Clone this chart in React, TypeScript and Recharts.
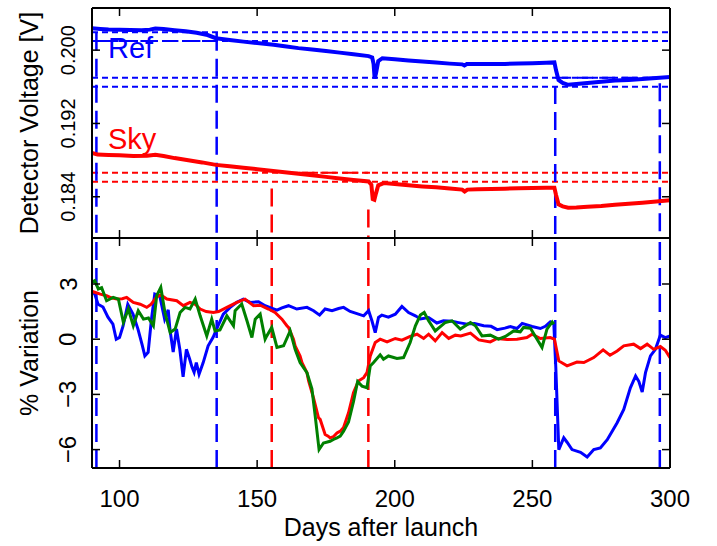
import React from "react";
import { LineChart, Line, XAxis, YAxis, ReferenceLine, ReferenceDot } from "recharts";

type Pt = [number, number];

const dayTicks = [100, 150, 200, 250, 300];
const voltTicks = [0.184, 0.192, 0.2];
const pctTicks = [-6, -3, 0, 3];

// detector voltage [V], top panel
const refVoltage: Pt[] = [
  [90, 0.2024], [93, 0.20232], [96, 0.20225], [100, 0.20222], [104, 0.2022], [108, 0.20218],
  [111, 0.20224], [113, 0.20236], [116, 0.2023], [120, 0.20218], [124, 0.20207], [128, 0.2019],
  [132, 0.20165], [135, 0.2013], [140, 0.2011], [145, 0.20093], [150, 0.20078], [156, 0.2006],
  [160, 0.20042], [165, 0.20022], [170, 0.20006], [175, 0.1999], [180, 0.19973], [185, 0.19955],
  [190.5, 0.19935], [191.8, 0.1992], [192.3, 0.1985], [192.7, 0.1969], [193.2, 0.1975], [194, 0.1988],
  [195.5, 0.19912], [200, 0.19902], [205, 0.19888], [210, 0.19875], [215, 0.19864], [220, 0.19853],
  [224.5, 0.19845], [225.3, 0.19832], [226.2, 0.19848], [230, 0.1985], [235, 0.19848], [240, 0.1985],
  [245, 0.19853], [250, 0.19858], [255, 0.19862], [258, 0.19866], [258.6, 0.1978], [259.5, 0.19675],
  [261, 0.19643], [263, 0.19622], [266, 0.1963], [270, 0.19641], [275, 0.19655], [280, 0.19668],
  [285, 0.19675], [290, 0.19684], [295, 0.19695], [300, 0.19706],
];
const skyVoltage: Pt[] = [
  [90, 0.18878], [92, 0.1886], [96, 0.18857], [100, 0.18852], [105, 0.18846], [110, 0.18848],
  [113, 0.18858], [116, 0.18845], [120, 0.18822], [125, 0.18798], [130, 0.18775], [135, 0.18748],
  [140, 0.18733], [145, 0.18716], [150, 0.18701], [155, 0.18684], [160, 0.18668], [165, 0.1865],
  [170, 0.18634], [175, 0.18617], [180, 0.186], [185, 0.18584], [190.5, 0.18567], [191.5, 0.1853],
  [192, 0.18375], [192.6, 0.18367], [193.2, 0.1844], [194, 0.18525], [196, 0.18549], [200, 0.1854],
  [205, 0.18525], [210, 0.18513], [215, 0.18503], [220, 0.1849], [224.5, 0.18478], [225.4, 0.18458],
  [226.4, 0.18478], [230, 0.18482], [235, 0.18484], [240, 0.18488], [245, 0.18493], [250, 0.18496],
  [255, 0.18498], [258, 0.18498], [258.6, 0.1842], [259.5, 0.18318], [261, 0.18295], [263, 0.1828],
  [266, 0.18283], [270, 0.18291], [275, 0.183], [280, 0.18313], [285, 0.18323], [290, 0.18335],
  [295, 0.18348], [300, 0.18362],
];

// % variation, bottom panel
const refVariation: Pt[] = [
  [90, 2.6], [91, 2.45], [92.2, 1.9], [94, 1.75], [95.8, 1.2], [97.6, 0.82], [98.8, 0.0], [100, 0.1],
  [101.3, 0.72], [103, 1.9], [104.9, 1.36], [106.7, 0.55], [108.2, -0.3], [109.2, -0.91], [110.4, -0.71],
  [111.6, 1.09], [112.8, 2.45], [114.6, 2.36], [116.4, 1.09], [117.7, 1.6], [118.3, 0.55], [119.5, -0.7],
  [120.7, 0.55], [121.9, -0.55], [123.1, -2.05], [124.3, -0.55], [125.5, -1.09], [126.3, -1.5],
  [127.1, -1.8], [127.9, -1.27], [128.9, -1.9], [130.4, -1.27], [132.2, -0.36], [134, 0.1], [135.8, 0.73],
  [137.7, 1.36], [140.2, 1.73], [142.6, 2.0], [145, 2.18], [147.5, 2.0], [150.5, 2.04], [152.9, 1.82],
  [155, 1.7], [157.2, 1.58], [159, 1.7], [161.4, 1.82], [164.4, 1.64], [168.1, 1.73], [170.5, 1.55],
  [172.7, 1.31], [174.7, 1.64], [177.2, 1.55], [179.6, 1.67], [181.4, 1.73], [183.8, 1.51], [186, 1.4],
  [188.7, 1.27], [190.5, 1.55], [191.7, 1.0], [192.9, 0.36], [194.1, 1.18], [195.3, 1.31], [197.7, 1.2],
  [200.2, 1.36], [202.6, 1.78], [205, 1.45], [207.5, 1.27], [209.3, 1.1], [212.3, 1.18], [215.3, 0.88],
  [217.7, 1.0], [220.8, 0.97], [223.2, 0.9], [226.3, 0.82], [229, 0.85], [232.3, 0.73], [235, 0.7],
  [237.2, 0.52], [240, 0.6], [242, 0.69], [244.4, 0.58], [246.3, 0.86], [249.9, 0.69], [252.9, 0.58],
  [254.7, 0.7], [256.5, 0.94], [257.8, 0.82], [258.5, -1.5], [259.6, -6.0], [261.4, -5.36], [262.6, -5.6],
  [264.4, -6.0], [267.5, -6.15], [269.9, -6.4], [272.3, -6.0], [274.7, -5.91], [277.2, -5.46],
  [280.8, -4.54], [283.2, -3.82], [285.6, -2.64], [287.5, -2.0], [288.7, -2.3], [289.9, -2.87],
  [291.1, -1.82], [292.9, -0.91], [294.7, -0.55], [296.5, 0.22], [298.3, 0.09], [300, 0.18],
];
const skyVariation: Pt[] = [
  [90, 2.6], [91, 2.55], [93, 2.45], [95.3, 2.36], [97, 2.25], [99, 2.18], [101, 2.2], [102.6, 2.27],
  [105, 2.0], [107.5, 1.9], [109.9, 1.73], [111.5, 1.9], [113.5, 2.3], [115, 2.4], [117.2, 2.18],
  [120.8, 2.09], [123.2, 1.82], [125.6, 2.0], [127.5, 1.9], [129.3, 1.64], [131.5, 1.5], [134.1, 1.45],
  [136, 1.5], [139, 1.73], [142.6, 2.0], [145.6, 2.18], [148.7, 1.82], [151.1, 1.85], [154.1, 1.64],
  [156.5, 1.45], [159, 1.09], [160.8, 0.73], [161.4, 0.64], [163.2, 0.0], [163.8, -0.36], [165.6, -0.91],
  [166.3, -1.27], [168.1, -1.82], [168.7, -2.27], [170.5, -3.2], [172.3, -4.27], [172.9, -4.36],
  [174.7, -5.18], [175.8, -5.27], [176.5, -5.36], [177.7, -5.3], [179, -5.09], [180.2, -5.0],
  [181.4, -4.8], [183.2, -4.0], [185, -2.91], [186.8, -2.27], [188.7, -2.09], [189.9, -1.82],
  [191.1, -0.91], [192.9, -0.18], [194.7, 0.0], [197.2, -0.15], [200.2, 0.04], [202.6, -0.05],
  [205.6, 0.15], [208.1, 0.27], [210.5, 0.04], [212.3, 0.27], [214.7, -0.09], [217.2, 0.36],
  [219.6, 0.04], [222, 0.22], [224, 0.18], [227.5, 0.33], [230.5, -0.04], [234.7, -0.15], [237.2, 0.04],
  [240.8, -0.02], [244.4, 0.0], [248, 0.09], [249.9, 0.27], [252.9, 0.04], [256.5, 0.09], [258, 0.0],
  [259.6, -1.18], [262.6, -1.45], [266.2, -1.24], [268.7, -1.27], [272.3, -1.0], [275.7, -0.58],
  [278.2, -0.87], [280.8, -0.64], [283.2, -0.36], [286.8, -0.27], [289.3, -0.51], [291.7, -0.27],
  [294.1, -0.55], [296.5, -0.4], [298.3, -0.6], [300, -1.0],
];
const diffVariation: Pt[] = [
  [90, 3.1], [91, 3.18], [92.3, 2.73], [93.5, 2.8], [95.3, 2.09], [97.7, 2.27], [99.6, 2.18], [101.4, 0.91],
  [103.2, 1.64], [105, 0.73], [106.8, 1.55], [108.7, 1.09], [110.5, 1.15], [112.3, 0.73], [113.5, 2.36],
  [115, 2.82], [116.5, 1.45], [118.4, 0.36], [120.2, 0.55], [122, 1.45], [123.8, 1.73], [125.6, 1.64],
  [127.5, 2.18], [129.3, 1.27], [131.7, 0.18], [133.5, 1.09], [134.7, 0.45], [136.5, 0.5], [139, 1.27],
  [141.4, 0.73], [142, 1.55], [144.4, 1.91], [146.3, 1.0], [148.1, 0.09], [149.3, 1.09], [151.1, 1.36],
  [152.9, 0.0], [153.5, 0.18], [155.3, 0.64], [157.2, -0.45], [159.6, -0.36], [162, 0.45], [163.8, -0.55],
  [165.6, -1.27], [168.1, -1.82], [169.9, -2.7], [171.1, -4.18], [172.5, -6.0], [174.1, -5.64],
  [176.5, -5.55], [177.7, -5.45], [179, -5.36], [180.2, -5.27], [181.4, -5.0], [183.2, -4.5],
  [185, -3.4], [186.5, -2.3], [188.1, -2.55], [189.9, -2.64], [191.1, -1.45], [192.3, -1.27],
  [194.7, -0.85], [195.9, -1.09], [197.7, -0.91], [200.8, -1.05], [203.2, -1.0], [205.6, -0.18],
  [207.5, 0.73], [209.3, 1.31], [210.7, 1.45], [212.3, 1.0], [214.7, 0.45], [217.2, 0.76], [218.4, 0.91],
  [220.8, 1.0], [223.8, 0.55], [227.5, 0.91], [229.3, 0.73], [231.7, 0.18], [234.7, 0.22], [237.7, 0.0],
  [240.2, 0.15], [243.2, 0.45], [245.6, 0.4], [246.8, 0.64], [249.3, 0.6], [251.7, 0.0], [253.5, -0.45],
  [255.3, 0.55], [257.2, 0.94], [257.8, 0.82],
];

// event markers (days) and where the marker starts in the voltage panel
const refEvents = [91.6, 135.3, 258.3, 296.3];
const refEventTop = [0.2019, 0.2019, 0.1961, 0.1964];
const skyEvents = [155.3, 190.4];
const skyEventTop = [0.1849, 0.1826];

// dotted threshold levels
const refBands = [0.20196, 0.20101, 0.19699, 0.196];
const skyBands = [0.18661, 0.18563];

// dashed level segments: [from day, to day, volts]
const refLevels: [number, number, number][] = [[91.6, 135.3, 0.20101], [258.3, 300, 0.19699]];
const skyLevels: [number, number, number][] = [[165, 191, 0.18661]];

const BLUE = "#0000ff";
const RED = "#ff0000";
const GREEN = "#008000";
const FONT = "'Liberation Sans', Arial, sans-serif";
const TICK_LEN = 8;
const dayDomain = [90, 300];
const voltDomain = [0.1795, 0.2046];
const pctDomain = [-7, 5.5];
const axisLine = { stroke: "#000", strokeWidth: 2 };

const toRows = (pts: Pt[]) => pts.map(([day, v]) => ({ day, v }));
const minus = (v: number) => String(v).replace("-", "\u2212");

function makeTick(side: string, fmt?: (v: number) => string, size = 24) {
  return (p: any) => {
    const { x, y, payload } = p;
    const s = { stroke: "#000", strokeWidth: 1.5 };
    if (side === "bottom")
      return (
        <g>
          <line x1={x} y1={y} x2={x} y2={y - TICK_LEN} {...s} />
          {fmt && (
            <text x={x} y={y + 30} textAnchor="middle" dominantBaseline="central" fontSize={size} fontFamily={FONT} fill="#000">
              {fmt(payload.value)}
            </text>
          )}
        </g>
      );
    if (side === "top") return <line x1={x} y1={y} x2={x} y2={y + TICK_LEN} {...s} />;
    if (side === "right") return <line x1={x} y1={y} x2={x - TICK_LEN} y2={y} {...s} />;
    const lx = x - 24;
    return (
      <g>
        <line x1={x} y1={y} x2={x + TICK_LEN} y2={y} {...s} />
        {fmt && (
          <text x={lx} y={y} transform={`rotate(-90 ${lx} ${y})`} textAnchor="middle" dominantBaseline="central" fontSize={size} fontFamily={FONT} fill="#000">
            {fmt(payload.value)}
          </text>
        )}
      </g>
    );
  };
}

const xCommon = {
  type: "number" as const,
  dataKey: "day",
  domain: dayDomain,
  ticks: dayTicks,
  allowDataOverflow: true,
  interval: 0 as const,
  tickSize: 0,
  tickMargin: 0,
  tickLine: false,
  axisLine,
};

function Axes({ bottomHeight, labels, yDomain, yTicks, fmt, ySize }: any) {
  return [
    <XAxis key="xb" xAxisId="b" {...xCommon} height={bottomHeight} tick={makeTick("bottom", labels ? (v) => String(v) : undefined)} />,
    <XAxis key="xt" xAxisId="t" {...xCommon} orientation="top" height={1} tick={makeTick("top")} />,
    <YAxis key="yl" yAxisId="l" type="number" domain={yDomain} ticks={yTicks} allowDataOverflow interval={0} width={92} tickSize={0} tickMargin={0} tickLine={false} axisLine={axisLine} tick={makeTick("left", fmt, ySize)} />,
    <YAxis key="yr" yAxisId="r" orientation="right" type="number" domain={yDomain} ticks={yTicks} allowDataOverflow interval={0} width={47} tickSize={0} tickMargin={0} tickLine={false} axisLine={axisLine} tick={makeTick("right")} />,
  ];
}

const ids = { xAxisId: "b", yAxisId: "l" };

export default function App() {
  return (
    <div style={{ position: "absolute", left: 0, top: 0, width: 717, height: 546, background: "#fff", fontFamily: FONT }}>
      <div style={{ position: "absolute", left: 0, top: 0 }}>
        <LineChart width={717} height={246} margin={{ top: 7, right: 0, bottom: 7, left: 0 }}>
          {Axes({ bottomHeight: 1, labels: false, yDomain: voltDomain, yTicks: voltTicks, fmt: (v: number) => v.toFixed(3), ySize: 20 })}
          {refBands.map((v) => (
            <ReferenceLine key={"rb" + v} {...ids} y={v} stroke={BLUE} strokeWidth={2} strokeDasharray="6 4" />
          ))}
          {skyBands.map((v) => (
            <ReferenceLine key={"sb" + v} {...ids} y={v} stroke={RED} strokeWidth={2} strokeDasharray="6 4" />
          ))}
          {refLevels.map(([a, b, v]) => (
            <ReferenceLine key={"rl" + a} {...ids} segment={[{ x: a, y: v }, { x: b, y: v }]} stroke={BLUE} strokeWidth={2} strokeDasharray="16 6" />
          ))}
          {skyLevels.map(([a, b, v]) => (
            <ReferenceLine key={"sl" + a} {...ids} segment={[{ x: a, y: v }, { x: b, y: v }]} stroke={RED} strokeWidth={2} strokeDasharray="16 6" />
          ))}
          {refEvents.map((d, i) => (
            <ReferenceLine key={"re" + d} {...ids} segment={[{ x: d, y: refEventTop[i] }, { x: d, y: voltDomain[0] }]} stroke={BLUE} strokeWidth={2.5} strokeDasharray="18 8" />
          ))}
          {skyEvents.map((d, i) => (
            <ReferenceLine key={"se" + d} {...ids} segment={[{ x: d, y: skyEventTop[i] }, { x: d, y: voltDomain[0] }]} stroke={RED} strokeWidth={2.5} strokeDasharray="18 8" />
          ))}
          <Line {...ids} data={toRows(refVoltage)} dataKey="v" stroke={BLUE} strokeWidth={4} dot={false} activeDot={false} isAnimationActive={false} />
          <Line {...ids} data={toRows(skyVoltage)} dataKey="v" stroke={RED} strokeWidth={4} dot={false} activeDot={false} isAnimationActive={false} />
          <ReferenceDot {...ids} x={94} y={0.20022} r={0} fill="none" stroke="none" label={{ value: "Ref", position: "right", fill: BLUE, fontSize: 29, fontFamily: FONT }} />
          <ReferenceDot {...ids} x={94} y={0.19031} r={0} fill="none" stroke="none" label={{ value: "Sky", position: "right", fill: RED, fontSize: 29, fontFamily: FONT }} />
        </LineChart>
      </div>
      <div style={{ position: "absolute", left: 0, top: 237 }}>
        <LineChart width={717} height={309} margin={{ top: 0, right: 0, bottom: 0, left: 0 }}>
          {Axes({ bottomHeight: 78, labels: true, yDomain: pctDomain, yTicks: pctTicks, fmt: minus, ySize: 24 })}
          {refEvents.map((d) => (
            <ReferenceLine key={"re" + d} {...ids} x={d} stroke={BLUE} strokeWidth={2.5} strokeDasharray="18 8" />
          ))}
          {skyEvents.map((d) => (
            <ReferenceLine key={"se" + d} {...ids} x={d} stroke={RED} strokeWidth={2.5} strokeDasharray="18 8" />
          ))}
          <Line {...ids} data={toRows(refVariation)} dataKey="v" stroke={BLUE} strokeWidth={3} dot={false} activeDot={false} isAnimationActive={false} />
          <Line {...ids} data={toRows(skyVariation)} dataKey="v" stroke={RED} strokeWidth={3} dot={false} activeDot={false} isAnimationActive={false} />
          <Line {...ids} data={toRows(diffVariation)} dataKey="v" stroke={GREEN} strokeWidth={3} dot={false} activeDot={false} isAnimationActive={false} />
        </LineChart>
      </div>
      <svg width={717} height={546} style={{ position: "absolute", left: 0, top: 0, pointerEvents: "none" }}>
        <g fontFamily={FONT} fontSize={25} fill="#000" textAnchor="middle">
          <text x={29} y={123} transform="rotate(-90 29 123)" dominantBaseline="central">Detector Voltage [V]</text>
          <text x={29} y={353} transform="rotate(-90 29 353)" dominantBaseline="central">% Variation</text>
          <text x={381} y={527} dominantBaseline="central">Days after launch</text>
        </g>
      </svg>
    </div>
  );
}
